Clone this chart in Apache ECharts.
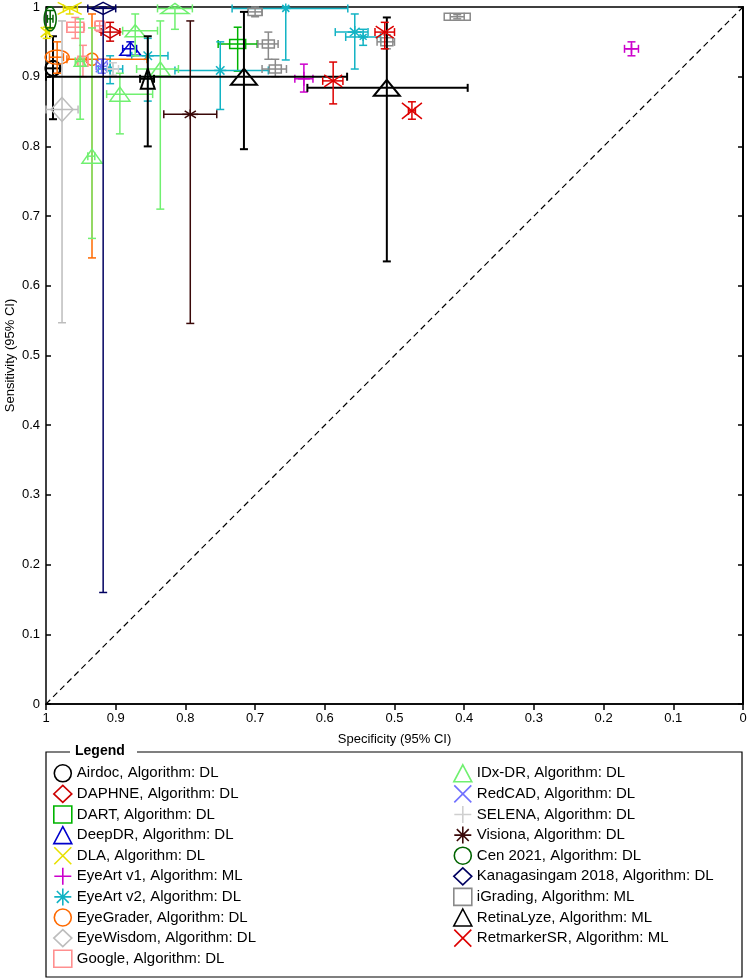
<!DOCTYPE html>
<html>
<head>
<meta charset="utf-8">
<script src="https://cdn.jsdelivr.net/npm/echarts@6/dist/echarts.min.js"></script>
<style>html,body{margin:0;padding:0;background:#fff}#c{width:750px;height:979px}</style>
</head>
<body>
<div id="c"></div>
<script>
// ---- data: each point = [specificity, sensitivity, specLow, specHigh, sensLow, sensHigh]
const airdoc = [[0.990, 0.912, 0.980, 1.000, 0.839, 0.958]];
const daphne = [[0.908, 0.964, 0.894, 0.921, 0.951, 0.978]];
const dart = [[0.725, 0.947, 0.697, 0.753, 0.908, 0.971]];
const deepdr = [[0.879, 0.940, 0.870, 0.890, 0.930, 0.950]];
const dla = [[0.966, 0.998, 0.955, 0.975, 0.990, 1.000], [0.999, 0.964, 0.995, 1.000, 0.955, 0.971]];
const eyeartV1 = [[0.630, 0.897, 0.617, 0.643, 0.878, 0.918], [0.160, 0.940, 0.150, 0.170, 0.930, 0.950]];
const eyeartV2 = [[0.656, 0.998, 0.567, 0.733, 0.924, 1.000], [0.557, 0.964, 0.538, 0.585, 0.911, 0.990],
                  [0.545, 0.957, 0.520, 0.570, 0.945, 0.968], [0.750, 0.909, 0.681, 0.815, 0.853, 0.950],
                  [0.854, 0.930, 0.825, 0.877, 0.865, 0.955], [0.908, 0.911, 0.890, 0.925, 0.890, 0.930]];
const eyegrader = [[0.984, 0.928, 0.975, 0.995, 0.905, 0.950], [0.934, 0.925, 0.855, 0.970, 0.640, 0.990]];
const eyewisdom = [[0.977, 0.853, 0.954, 1.000, 0.547, 0.980]];
const google = [[0.958, 0.971, 0.945, 0.970, 0.955, 0.985], [0.923, 0.973, 0.915, 0.930, 0.965, 0.980],
                [0.947, 0.922, 0.940, 0.955, 0.900, 0.945]];
const idxdr = [[0.815, 0.998, 0.790, 0.840, 0.968, 1.000], [0.872, 0.966, 0.840, 0.890, 0.930, 0.990],
               [0.836, 0.911, 0.810, 0.870, 0.710, 0.980], [0.894, 0.875, 0.847, 0.913, 0.818, 0.905],
               [0.934, 0.786, 0.930, 0.940, 0.668, 0.970], [0.951, 0.922, 0.945, 0.958, 0.839, 0.983]];
const redcad = [[0.920, 0.915, 0.912, 0.928, 0.905, 0.925]];
const selena = [[0.904, 0.911, 0.896, 0.912, 0.902, 0.920]];
const visiona = [[0.793, 0.846, 0.755, 0.831, 0.546, 0.980]];
const cen2021 = [[0.994, 0.983, 0.990, 0.998, 0.970, 0.995]];
const kanagasingam = [[0.918, 0.998, 0.900, 0.940, 0.160, 1.000]];
const igrading = [[0.700, 0.993, 0.690, 0.710, 0.986, 1.000], [0.681, 0.947, 0.667, 0.696, 0.925, 0.964],
                  [0.671, 0.911, 0.655, 0.690, 0.900, 0.925], [0.511, 0.950, 0.500, 0.525, 0.940, 0.960],
                  [0.410, 0.986, 0.400, 0.420, 0.983, 0.989]];
const retinalyze = [[0.854, 0.897, 0.845, 0.865, 0.800, 0.958], [0.716, 0.900, 0.568, 1.000, 0.796, 0.993],
                    [0.511, 0.884, 0.395, 0.625, 0.635, 0.985]];
const retmarker = [[0.514, 0.964, 0.500, 0.528, 0.940, 0.978], [0.588, 0.894, 0.574, 0.603, 0.861, 0.921],
                   [0.475, 0.851, 0.470, 0.480, 0.839, 0.864]];

const axisTicks = [0, 0.1, 0.2, 0.3, 0.4, 0.5, 0.6, 0.7, 0.8, 0.9, 1];

const legendLeft = ['Airdoc, Algorithm: DL', 'DAPHNE, Algorithm: DL', 'DART, Algorithm: DL', 'DeepDR, Algorithm: DL',
  'DLA, Algorithm: DL', 'EyeArt v1, Algorithm: ML', 'EyeArt v2, Algorithm: DL', 'EyeGrader, Algorithm: DL',
  'EyeWisdom, Algorithm: DL', 'Google, Algorithm: DL'];
const legendRight = ['IDx-DR, Algorithm: DL', 'RedCAD, Algorithm: DL', 'SELENA, Algorithm: DL', 'Visiona, Algorithm: DL',
  'Cen 2021, Algorithm: DL', 'Kanagasingam 2018, Algorithm: DL', 'iGrading, Algorithm: ML',
  'RetinaLyze, Algorithm: ML', 'RetmarkerSR, Algorithm: ML'];

const studyData = {
  'Airdoc, Algorithm: DL': airdoc, 'DAPHNE, Algorithm: DL': daphne, 'DART, Algorithm: DL': dart,
  'DeepDR, Algorithm: DL': deepdr, 'DLA, Algorithm: DL': dla, 'EyeArt v1, Algorithm: ML': eyeartV1,
  'EyeArt v2, Algorithm: DL': eyeartV2, 'EyeGrader, Algorithm: DL': eyegrader, 'EyeWisdom, Algorithm: DL': eyewisdom,
  'Google, Algorithm: DL': google, 'IDx-DR, Algorithm: DL': idxdr, 'RedCAD, Algorithm: DL': redcad,
  'SELENA, Algorithm: DL': selena, 'Visiona, Algorithm: DL': visiona, 'Cen 2021, Algorithm: DL': cen2021,
  'Kanagasingam 2018, Algorithm: DL': kanagasingam, 'iGrading, Algorithm: ML': igrading,
  'RetinaLyze, Algorithm: ML': retinalyze, 'RetmarkerSR, Algorithm: ML': retmarker
};

// ---- styling (kept separate from data)
const styles = {
  'Airdoc, Algorithm: DL': {color: '#000000', shape: 'circle', lw: 2},
  'DAPHNE, Algorithm: DL': {color: '#cc0000', shape: 'diamond', lw: 1.5},
  'DART, Algorithm: DL': {color: '#00b400', shape: 'rect', lw: 1.5},
  'DeepDR, Algorithm: DL': {color: '#0000cc', shape: 'triangle', lw: 1.5},
  'DLA, Algorithm: DL': {color: '#e8e000', shape: 'x', lw: 1.5},
  'EyeArt v1, Algorithm: ML': {color: '#cc00cc', shape: 'plus', lw: 1.5},
  'EyeArt v2, Algorithm: DL': {color: '#12b3c4', shape: 'asterisk', lw: 1.5},
  'EyeGrader, Algorithm: DL': {color: '#ff6a00', shape: 'circle', lw: 1.5},
  'EyeWisdom, Algorithm: DL': {color: '#bdbdbd', shape: 'diamond', lw: 1.5},
  'Google, Algorithm: DL': {color: '#ff8f8f', shape: 'rect', lw: 1.5},
  'IDx-DR, Algorithm: DL': {color: '#70f070', shape: 'triangle', lw: 1.5},
  'RedCAD, Algorithm: DL': {color: '#7070ff', shape: 'x', lw: 1.5},
  'SELENA, Algorithm: DL': {color: '#cfcfcf', shape: 'plus', lw: 1.5},
  'Visiona, Algorithm: DL': {color: '#3a0808', shape: 'asterisk', lw: 1.5},
  'Cen 2021, Algorithm: DL': {color: '#006400', shape: 'circle', lw: 1.5},
  'Kanagasingam 2018, Algorithm: DL': {color: '#000060', shape: 'diamond', lw: 1.5},
  'iGrading, Algorithm: ML': {color: '#8a8a8a', shape: 'rect', lw: 1.5},
  'RetinaLyze, Algorithm: ML': {color: '#000000', shape: 'triangle', lw: 2},
  'RetmarkerSR, Algorithm: ML': {color: '#dd0000', shape: 'x', lw: 1.5}
};
const markerSizes = {
  'Airdoc, Algorithm: DL': [[15, 15]],
  'DAPHNE, Algorithm: DL': [[21, 12]],
  'DART, Algorithm: DL': [[16, 9]],
  'DeepDR, Algorithm: DL': [[21, 13]],
  'DLA, Algorithm: DL': [[24, 12], [12, 10]],
  'EyeArt v1, Algorithm: ML': [[12, 14], [12, 10]],
  'EyeArt v2, Algorithm: DL': [[10, 10], [14, 12], [10, 8], [12, 12], [12, 12], [10, 10]],
  'EyeGrader, Algorithm: DL': [[24, 14], [12, 12]],
  'EyeWisdom, Algorithm: DL': [[22, 24]],
  'Google, Algorithm: DL': [[17, 10], [9, 9], [10, 10]],
  'IDx-DR, Algorithm: DL': [[28, 10], [20, 12], [20, 14], [20, 14], [20, 14], [12, 10]],
  'RedCAD, Algorithm: DL': [[12, 12]],
  'SELENA, Algorithm: DL': [[12, 12]],
  'Visiona, Algorithm: DL': [[16, 10]],
  'Cen 2021, Algorithm: DL': [[12, 24]],
  'Kanagasingam 2018, Algorithm: DL': [[24, 12]],
  'iGrading, Algorithm: ML': [[14, 7], [12, 8], [12, 8], [12, 8], [26, 7]],
  'RetinaLyze, Algorithm: ML': [[14, 20], [26, 16], [26, 16]],
  'RetmarkerSR, Algorithm: ML': [[18, 12], [18, 12], [20, 16]]
};
const legendIcons = {
  circle: 'circle', diamond: 'diamond', rect: 'rect', triangle: 'triangle',
  x: 'path://M0,0L10,10M10,0L0,10',
  plus: 'path://M5,0L5,10M0,5L10,5',
  asterisk: 'path://M5,0L5,10M0,5L10,5M1.5,1.5L8.5,8.5M8.5,1.5L1.5,8.5'
};
const FONT = 'Liberation Sans, Arial, sans-serif';

function makeRender(name) {
  const st = styles[name];
  const sizes = markerSizes[name];
  return function (params, api) {
    const i = params.dataIndex;
    const sp = api.value(0), se = api.value(1);
    const c = api.coord([sp, se]);
    const a = api.coord([api.value(2), se]), b = api.coord([api.value(3), se]);
    const d = api.coord([sp, api.value(4)]), e = api.coord([sp, api.value(5)]);
    const cap = 4;
    const sty = () => ({stroke: st.color, lineWidth: st.lw, fill: 'none'});
    const L = (x1, y1, x2, y2) => ({type: 'line', shape: {x1, y1, x2, y2}, style: sty()});
    const ch = [];
    if (Math.abs(b[0] - a[0]) > 1) {
      ch.push(L(a[0], c[1], b[0], c[1]), L(a[0], c[1] - cap, a[0], c[1] + cap), L(b[0], c[1] - cap, b[0], c[1] + cap));
    }
    if (Math.abs(e[1] - d[1]) > 1) {
      ch.push(L(c[0], d[1], c[0], e[1]), L(c[0] - cap, d[1], c[0] + cap, d[1]), L(c[0] - cap, e[1], c[0] + cap, e[1]));
    }
    const sz = sizes[i] || [12, 12];
    const x = c[0], y = c[1], hw = sz[0] / 2, hh = sz[1] / 2;
    switch (st.shape) {
      case 'circle': {
        const pts = [];
        for (let k = 0; k < 40; k++) {
          const t = k / 40 * Math.PI * 2;
          pts.push([x + hw * Math.cos(t), y + hh * Math.sin(t)]);
        }
        ch.push({type: 'polygon', shape: {points: pts}, style: sty()});
        break;
      }
      case 'diamond':
        ch.push({type: 'polygon', shape: {points: [[x, y - hh], [x + hw, y], [x, y + hh], [x - hw, y]]}, style: sty()});
        break;
      case 'rect':
        ch.push({type: 'rect', shape: {x: x - hw, y: y - hh, width: sz[0], height: sz[1]}, style: sty()});
        break;
      case 'triangle':
        ch.push({type: 'polygon', shape: {points: [[x, y - hh], [x + hw, y + hh], [x - hw, y + hh]]}, style: sty()});
        break;
      case 'x':
        ch.push(L(x - hw, y - hh, x + hw, y + hh), L(x + hw, y - hh, x - hw, y + hh));
        break;
      case 'plus':
        ch.push(L(x - hw, y, x + hw, y), L(x, y - hh, x, y + hh));
        break;
      case 'asterisk':
        ch.push(L(x - hw, y, x + hw, y), L(x, y - hh, x, y + hh),
          L(x - hw * 0.7, y - hh * 0.7, x + hw * 0.7, y + hh * 0.7), L(x + hw * 0.7, y - hh * 0.7, x - hw * 0.7, y + hh * 0.7));
        break;
    }
    return {type: 'group', children: ch};
  };
}

const allNames = legendLeft.concat(legendRight);
const series = [{
  type: 'line', data: [[1, 0], [0, 1]], symbol: 'none', silent: true, z: 1,
  lineStyle: {color: '#000', width: 1.2, type: [6, 4]}
}];
allNames.forEach(n => {
  series.push({
    type: 'custom', name: n, data: studyData[n], renderItem: makeRender(n),
    encode: {x: 0, y: 1}, clip: false, z: 3
  });
});

function legendData(list) {
  return list.map(n => ({
    name: n, icon: legendIcons[styles[n].shape],
    itemStyle: {color: 'transparent', borderColor: styles[n].color, borderWidth: 1.6}
  }));
}
const legendCommon = {
  orient: 'vertical', top: 764, height: 212, padding: 0, itemWidth: 18, itemHeight: 17, itemGap: 2, selectedMode: false,
  textStyle: {fontFamily: FONT, fontSize: 15, color: '#000'}, itemTextGap: 6
};
const labelFmt = v => String(axisTicks.reduce((p, t) => Math.abs(t - v) < Math.abs(p - v) ? t : p, 0));

const chart = echarts.init(document.getElementById('c'), null, {renderer: 'canvas'});
chart.setOption({
  animation: false,
  backgroundColor: '#fff',
  grid: {left: 46, right: 7, top: 7, bottom: 275, show: true, borderColor: '#000', borderWidth: 1.5,
    containLabel: false, outerBoundsMode: 'none'},
  xAxis: {
    type: 'value', min: 0, max: 1, interval: 0.1, inverse: true,
    name: 'Specificity (95% CI)', nameLocation: 'middle', nameGap: 29,
    nameTextStyle: {fontFamily: FONT, fontSize: 13, color: '#000'},
    axisLine: {lineStyle: {color: '#000', width: 1.5}},
    axisTick: {length: 6, lineStyle: {color: '#000', width: 1.5}},
    axisLabel: {fontFamily: FONT, fontSize: 13, color: '#000', margin: 8, formatter: labelFmt},
    splitLine: {show: false}
  },
  yAxis: [{
    type: 'value', min: 0, max: 1, interval: 0.1,
    name: 'Sensitivity (95% CI)', nameLocation: 'middle', nameGap: 29, nameMoveOverlap: false,
    nameTextStyle: {fontFamily: FONT, fontSize: 13, color: '#000'},
    axisLine: {lineStyle: {color: '#000', width: 2}},
    axisTick: {length: 5, lineStyle: {color: '#000', width: 1.5}},
    axisLabel: {fontFamily: FONT, fontSize: 13, color: '#000', margin: 6, formatter: labelFmt},
    splitLine: {show: false}
  }, {
    type: 'value', min: 0, max: 1, interval: 0.1, position: 'left',
    axisLine: {show: false}, axisLabel: {show: false}, splitLine: {show: false},
    axisTick: {inside: true, length: 5, lineStyle: {color: '#000', width: 1.5}}
  }],
  legend: [
    Object.assign({left: 53, data: legendData(legendLeft)}, legendCommon),
    Object.assign({left: 453, data: legendData(legendRight)}, legendCommon)
  ],
  graphic: [
    {type: 'polyline', shape: {points: [[70, 752], [46, 752], [46, 977], [742, 977], [742, 752], [137, 752]]},
     style: {stroke: '#000', lineWidth: 1.2, fill: 'none'}, silent: true},
    {type: 'text', left: 75, top: 744, style: {text: 'Legend', fontFamily: FONT, fontSize: 14, fontWeight: 'bold', fill: '#000'}}
  ],
  series: series
});
</script>
</body>
</html>
